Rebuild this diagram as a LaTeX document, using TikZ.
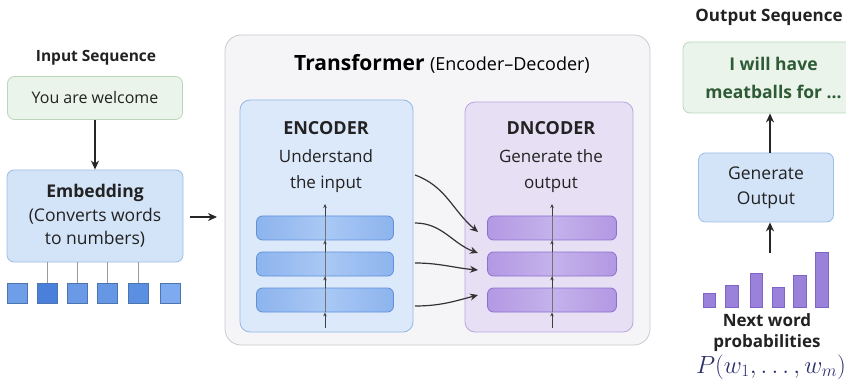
\documentclass[tikz,border=0pt]{standalone}
\usepackage{fontspec}
\setmainfont{Open Sans}
\usetikzlibrary{arrows,arrows.meta,positioning}

\definecolor{seqfill}{HTML}{EAF4EA}
\definecolor{seqline}{HTML}{B9D6BA}
\definecolor{seqtext}{HTML}{2E5A36}
\definecolor{bluefill}{HTML}{D3E3F8}
\definecolor{blueline}{HTML}{9DBCE8}
\definecolor{encfill}{HTML}{DCE9FA}
\definecolor{encline}{HTML}{94B6E6}
\definecolor{encbarfill}{HTML}{8DB4EE}
\definecolor{encbarmid}{HTML}{A9C8F4}
\definecolor{encbarline}{HTML}{5F91DA}
\definecolor{decfill}{HTML}{E7E0F5}
\definecolor{decline}{HTML}{B9A7DE}
\definecolor{decbarfill}{HTML}{B398E3}
\definecolor{decbarmid}{HTML}{C5B2EB}
\definecolor{decbarline}{HTML}{8C70CF}
\definecolor{trfill}{HTML}{F5F5F7}
\definecolor{trline}{HTML}{CACACF}
\definecolor{probbar}{HTML}{9A81DA}
\definecolor{probline}{HTML}{7E64C5}
\definecolor{mathcol}{HTML}{2B2F6C}
\definecolor{txt}{HTML}{222222}
\definecolor{tokA}{HTML}{6F9EE8}
\definecolor{tokB}{HTML}{4A80DC}
\definecolor{tokC}{HTML}{6A9AE6}
\definecolor{tokD}{HTML}{6597E5}
\definecolor{tokE}{HTML}{5B8FE2}
\definecolor{tokF}{HTML}{7EAAF0}

\tikzset{
  box/.style={draw, rounded corners=7pt, line width=0.8pt, align=center, inner sep=0pt, text=txt},
  layer/.style={draw, rounded corners=6pt, line width=0.8pt, minimum height=24pt, inner sep=0pt},
  enclayer/.style={layer, draw=encbarline, left color=encbarfill, right color=encbarfill, middle color=encbarmid, minimum width=137pt},
  declayer/.style={layer, draw=decbarline, left color=decbarfill, right color=decbarfill, middle color=decbarmid, minimum width=129pt},
  tok/.style={draw=encbarline!80!black, minimum size=20pt, inner sep=0pt, line width=0.4pt},
  prob/.style={draw=probline, fill=probbar, line width=0.5pt},
  arr/.style={-{Stealth[length=9pt,width=8pt]}, line width=1.4pt, color=black!85},
  flow/.style={-{Stealth[length=8pt,width=7pt]}, line width=1.2pt, color=black!80},
  tiny/.style={-{Stealth[length=4pt,width=3.5pt]}, line width=0.7pt, color=black!75},
  head/.style={font=\fontsize{15.5}{18}\selectfont\bfseries, text=txt},
  body/.style={font=\fontsize{17}{26}\selectfont, align=center, text=txt}
}

\begin{document}
\begin{tikzpicture}[x=1pt,y=-1pt]
  \useasboundingbox (0,0) rectangle (846,382);

  % input side
  \node [head] (inlabel) at (96,58) {Input Sequence};
  \node [box, fill=seqfill, draw=seqline, minimum width=175pt, minimum height=43pt, font=\fontsize{16}{19}\selectfont] (inseq) at (95,98) {You are welcome};
  \node [box, fill=bluefill, draw=blueline, minimum width=176pt, minimum height=92pt, font=\fontsize{17.5}{23.5}\selectfont] (emb) at (95,216) {\textbf{Embedding}\\(Converts words\\to numbers)};
  \draw [arr] (inseq) -- (emb);

  \node [tok, fill=tokA] (t1) at (17,293) {};
  \node [tok, fill=tokB] (t2) at (47,293) {};
  \node [tok, fill=tokC] (t3) at (77,293) {};
  \node [tok, fill=tokD] (t4) at (107,293) {};
  \node [tok, fill=tokE] (t5) at (138,293) {};
  \node [tok, fill=tokF] (t6) at (170,293) {};
  \draw [color=black!40, line width=0.9pt] (t2.north) -- (t2.north |- emb.south);
  \draw [color=black!40, line width=0.9pt] (t3.north) -- (t3.north |- emb.south);
  \draw [color=black!40, line width=0.9pt] (t4.north) -- (t4.north |- emb.south);
  \draw [color=black!40, line width=0.9pt] (t5.north) -- (t5.north |- emb.south);

  \coordinate (embout) at (217,217);
  \draw [arr] ([xshift=7pt]emb.east |- embout) -- (embout);

  % transformer
  \node [box, fill=trfill, draw=trline, rounded corners=16pt, minimum width=425pt, minimum height=310pt] (tr) at (437.5,190) {};
  \node (trtitle) at (442,64) {\fontsize{21}{24}\selectfont\bfseries Transformer \fontsize{18}{24}\mdseries(Encoder–Decoder)};

  \node [box, fill=encfill, draw=encline, rounded corners=10pt, minimum width=173pt, minimum height=232pt] (enc) at (326.5,216) {};
  \node [font=\fontsize{18}{20}\selectfont\bfseries, text=txt] (enctitle) at (326,128) {ENCODER};
  \node [body] (enctext) at (326,171) {Understand\\the input};
  \node [enclayer] (eb1) at (325,228) {};
  \node [enclayer] (eb2) at (325,264) {};
  \node [enclayer] (eb3) at (325,300) {};
  \coordinate (encin) at (325,328);
  \coordinate (encout) at (325,204);
  \draw [color=black!55, line width=0.6pt] (eb3.south) -- (eb1.north);
  \draw [tiny] (encin) -- (eb3.south);
  \draw [tiny] (eb3.north) -- (eb2.south);
  \draw [tiny] (eb2.north) -- (eb1.south);
  \draw [tiny] (eb1.north) -- (encout);

  \node [box, fill=decfill, draw=decline, rounded corners=10pt, minimum width=168pt, minimum height=230pt] (dec) at (549,217) {};
  \node [font=\fontsize{18}{20}\selectfont\bfseries, text=txt] (dectitle) at (551,128) {DNCODER};
  \node [body] (dectext) at (551,171) {Generate the\\output};
  \node [declayer] (db1) at (552,228) {};
  \node [declayer] (db2) at (552,264) {};
  \node [declayer] (db3) at (552,300) {};
  \coordinate (decin) at (552,328);
  \coordinate (decout) at (552,204);
  \draw [color=black!55, line width=0.6pt] (db3.south) -- (db1.north);
  \draw [tiny] (decin) -- (db3.south);
  \draw [tiny] (db3.north) -- (db2.south);
  \draw [tiny] (db2.north) -- (db1.south);
  \draw [tiny] (db1.north) -- (decout);

  % encoder to decoder
  \coordinate (s1) at (415,175);
  \coordinate (s2) at (415,223);
  \coordinate (s3) at (415,263);
  \coordinate (s4) at (415,306);
  \coordinate (d1) at (478,232);
  \coordinate (d2) at (478,253);
  \coordinate (d3) at (478,270);
  \coordinate (d4) at (478,295);
  \draw [flow] (s1) to[out=-20,in=140] (d1);
  \draw [flow] (s2) to[out=0,in=160] (d2);
  \draw [flow] (s3) to[out=0,in=175] (d3);
  \draw [flow] (s4) to[out=0,in=195] (d4);

  % output side
  \node [head, font=\fontsize{17}{20}\selectfont\bfseries] (outlabel) at (769,17) {Output Sequence};
  \node [box, fill=seqfill, draw=seqline, minimum width=181pt, minimum height=71pt, text=seqtext, font=\fontsize{17.5}{28}\selectfont\bfseries] (outseq) at (773.5,77.5) {I will have\\meatballs for ...};
  \node [box, fill=bluefill, draw=blueline, minimum width=135pt, minimum height=69pt, font=\fontsize{17.5}{25}\selectfont] (gen) at (766,187.5) {Generate\\Output};
  \draw [arr] (gen.north -| 770,0) -- (outseq.south -| 770,0);

  \draw [prob] (703,307) rectangle (715,293);
  \draw [prob] (725,307) rectangle (738,285);
  \draw [prob] (750,307) rectangle (762,273);
  \draw [prob] (772,307) rectangle (784,287);
  \draw [prob] (793,307) rectangle (806,275);
  \draw [prob] (815,307) rectangle (828,252);
  \coordinate (probtop) at (770,253);
  \draw [arr] (probtop) -- (gen.south -| probtop);

  \node [font=\fontsize{17}{21}\selectfont\bfseries, align=center, text=txt] (problabel) at (767,333) {Next word\\probabilities};
  \node [text=mathcol, font=\fontsize{23}{26}\selectfont] (probmath) at (771,367) {$P(w_1,\ldots,w_m)$};

\end{tikzpicture}
\end{document}
